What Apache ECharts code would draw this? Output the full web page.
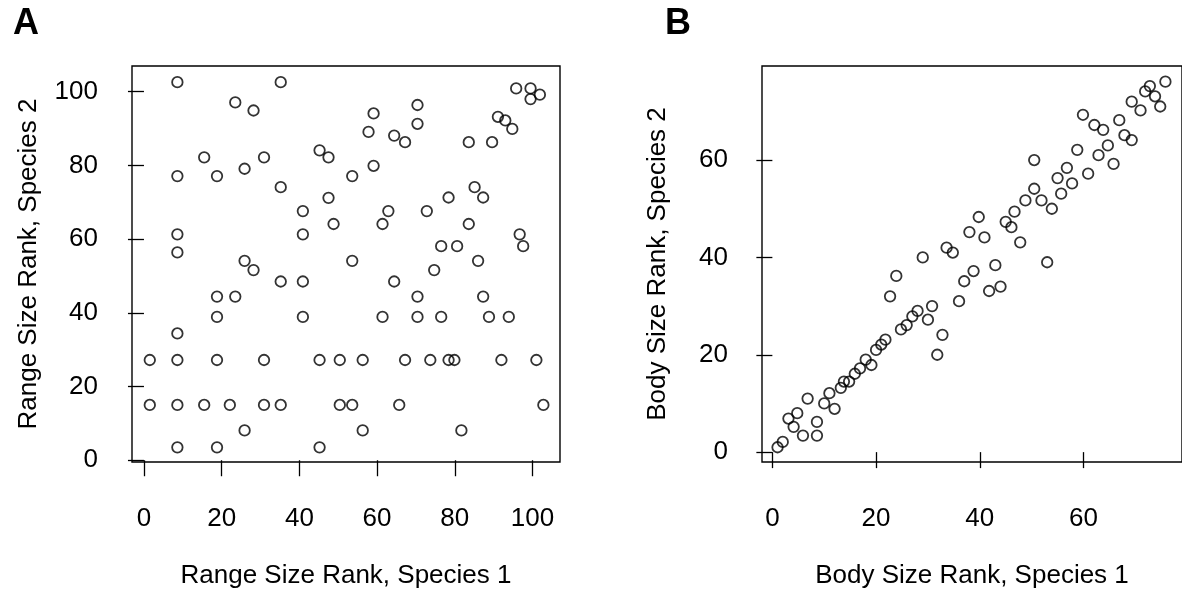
<!DOCTYPE html>
<html>
<head>
<meta charset="utf-8">
<script src="https://cdn.jsdelivr.net/npm/echarts@6/dist/echarts.min.js"></script>
<style>
html,body{margin:0;padding:0;background:#fff;}
#chart{width:1182px;height:594px;}
</style>
</head>
<body>
<div id="chart"></div>
<script>
// Panel A: range size ranks
const rangeRank1 = [8.6,35.2,23.5,28.2,15.5,30.9,45.2,47.5,8.6,18.8,25.9,35.2,47.5,40.9,48.8,8.6,40.9,8.6,25.9,28.2,35.2,40.9,18.8,23.5,18.8,40.9,8.6,
  1.5,8.6,18.8,30.9,45.2,50.4,56.3,67.2,73.7,78.4,79.9,92,101,
  1.5,8.6,15.5,22.1,30.9,35.2,50.4,53.6,65.7,102.8,
  25.9,56.3,81.7,
  8.6,18.8,45.2,
  53.6,74.7,86,64.4,70.4,87.3,61.4,70.4,76.5,88.8,93.9,
  95.8,99.5,99.5,101.9,70.4,59.1,70.4,91.1,93,94.8,57.8,64.4,67.2,83.6,89.6,59.1,53.6,85.1,87.3,78.4,62.9,72.8,61.4,83.6,96.7,97.6,76.5,80.6];
const rangeRank2 = [102.6,102.6,97.1,94.9,82.2,82.2,84.1,82.2,77.1,77.1,79.1,74.1,71.2,67.6,64.1,61.3,61.3,56.4,54.1,51.6,48.5,48.5,44.4,44.4,38.9,38.9,34.4,
  27.2,27.2,27.2,27.2,27.2,27.2,27.2,27.2,27.2,27.2,27.2,27.2,27.2,
  15,15,15,15,15,15,15,15,15,15,
  8.1,8.1,8.1,
  3.5,3.5,3.5,
  54.1,51.6,54.1,48.5,44.4,44.4,38.9,38.9,38.9,38.9,38.9,
  100.9,100.9,98,99.2,96.4,94.1,91.3,93.2,92.2,89.9,89.1,88.1,86.3,86.3,86.3,79.9,77.1,74.1,71.3,71.3,67.6,67.6,64.1,64.1,61.3,58.1,58.1,58.1];

// Panel B: body size ranks
const bodyRank1 = [75.8,72.8,71.9,73.8,74.8,69.3,71.0,59.9,62.1,63.8,66.9,67.9,69.3,58.8,64.7,62.9,65.8,50.5,56.8,55.0,
  60.9,57.8,55.7,50.5,48.8,51.9,53.9,46.7,45.0,46.1,47.8,39.8,38.0,40.9,33.6,34.8,43.0,53.0,38.8,37.0,
  36.0,41.8,44.0,29.0,23.9,22.7,30.8,30.0,32.8,31.8,28.0,27.0,25.9,24.8,21.8,21.0,20.0,19.1,18.0,16.9,
  15.9,14.8,13.8,13.2,11.0,12.0,10.0,6.8,8.6,8.6,5.9,4.8,3.1,4.1,2.0,1.0];
const bodyRank2 = [76.1,75.2,74.1,73.1,71.0,72.0,70.2,69.3,67.2,66.2,68.2,65.1,64.1,62.1,63.0,61.0,59.2,60.0,58.4,56.3,
  57.2,55.2,53.1,54.1,51.7,51.7,50.0,49.4,47.3,46.2,43.1,48.3,45.2,44.1,42.0,41.0,38.4,39.0,37.2,35.1,
  31.0,33.1,34.0,40.0,36.2,32.0,30.0,27.2,24.1,20.0,29.0,27.9,26.1,25.2,23.1,22.1,21.0,17.9,19.0,17.2,
  16.1,14.5,14.5,13.2,12.1,8.9,10.0,11.0,6.2,3.4,3.4,8.0,6.9,5.2,2.1,1.0];

const ticksA = [0,20,40,60,80,100];
const ticksBx = [0,20,40,60];
const ticksBy = [0,20,40,60];

const FONT = "'Liberation Sans', Arial, sans-serif";
const FS = 26;

function pairs(xs, ys){ return xs.map((x,i)=>[x, ys[i]]); }

function axis(min, max, ticks, name, gap, isY){
  return {
    type:'value', min:min, max:max,
    splitLine:{show:false},
    axisLine:{show:false},
    axisTick:{show:true, length:16, inside:false, customValues:ticks, lineStyle:{color:'#000', width:1.3}},
    axisLabel:{show:true, customValues:ticks, color:'#000', fontSize:FS, fontFamily:FONT, margin: isY ? 34 : 44},
    name:name, nameLocation:'middle', nameGap:gap,
    nameTextStyle:{color:'#000', fontSize:FS, fontFamily:FONT}
  };
}

const markerStyle = {color:'rgba(0,0,0,0)', borderColor:'#000', borderWidth:1.8};

const chart = echarts.init(document.getElementById('chart'), null, {renderer:'canvas'});
chart.setOption({
  animation:false,
  backgroundColor:'#fff',
  grid:[
    {left:132, top:66, width:428, height:400, show:true, borderColor:'#000', borderWidth:1.4, backgroundColor:'transparent'},
    {left:762, top:66, width:427, height:400, show:true, borderColor:'#000', borderWidth:1.4, backgroundColor:'transparent'}
  ],
  xAxis:[
    Object.assign(axis(-3.08, 107.08, ticksA, 'Range Size Rank, Species 1', 101, false), {gridIndex:0}),
    Object.assign(axis(-2, 79, ticksBx, 'Body Size Rank, Species 1', 101, false), {gridIndex:1})
  ],
  yAxis:[
    Object.assign(axis(-0.48, 106.98, ticksA, 'Range Size Rank, Species 2', 90, true), {gridIndex:0}),
    Object.assign(axis(-2.03, 79.32, ticksBy, 'Body Size Rank, Species 2', 91, true), {gridIndex:1})
  ],
  graphic:[
    {type:'text', left:13, top:6, style:{text:'A', fill:'#000', font:"bold 36px "+FONT}},
    {type:'text', left:665, top:6, style:{text:'B', fill:'#000', font:"bold 36px "+FONT}}
  ],
  series:[
    {type:'scatter', xAxisIndex:0, yAxisIndex:0, data:pairs(rangeRank1, rangeRank2), symbol:'circle', symbolSize:10.5, itemStyle:markerStyle},
    {type:'scatter', xAxisIndex:1, yAxisIndex:1, data:pairs(bodyRank1, bodyRank2), symbol:'circle', symbolSize:10.5, itemStyle:markerStyle}
  ]
});
</script>
</body>
</html>
